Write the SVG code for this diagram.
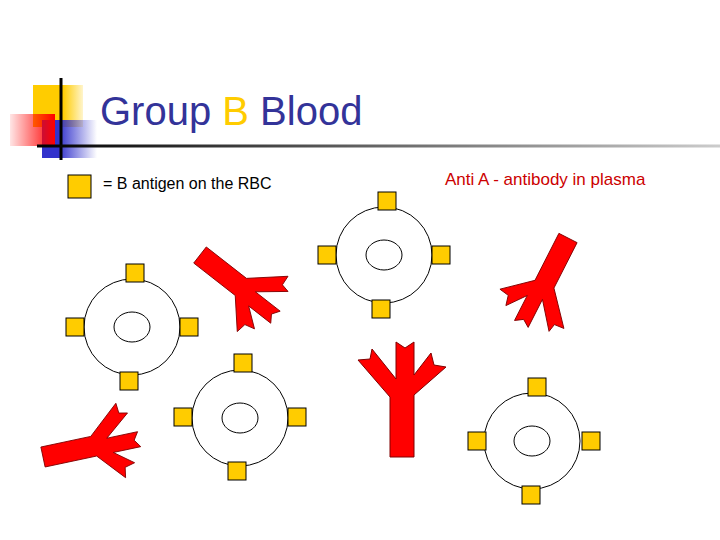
<svg xmlns="http://www.w3.org/2000/svg" width="720" height="540" viewBox="0 0 720 540">
<defs>
<linearGradient id="rg" x1="0" x2="1"><stop offset="0" stop-color="#ff0000" stop-opacity="0.1"/><stop offset="1" stop-color="#ff0000"/></linearGradient>
<linearGradient id="bg" x1="0" x2="1"><stop offset="0.3" stop-color="#3333cc"/><stop offset="1" stop-color="#3333cc" stop-opacity="0"/></linearGradient>
<linearGradient id="yg" x1="0" x2="1"><stop offset="0.6" stop-color="#ffcc00"/><stop offset="1" stop-color="#ffcc00" stop-opacity="0.2"/></linearGradient>
<linearGradient id="lg" x1="0" x2="1"><stop offset="0" stop-color="#000"/><stop offset="1" stop-color="#ccc"/></linearGradient>
<polygon id="ab" points="-12,0 12,0 12,-62 44,-90 32,-92 29,-104 12,-82 12,-115 3,-109 -6,-115 -6,-78 -30,-108 -32,-98 -44,-97 -12,-60"/>
<rect id="ag" x="-9" y="-9" width="18" height="18"/>
</defs>
<style>
.ab{fill:#ff0000;stroke:#800000;stroke-width:1}
.ag{fill:#ffcc00;stroke:#000;stroke-width:1}
.cell{fill:#fff;stroke:#000;stroke-width:1}
text{font-family:"Liberation Sans",Arial,sans-serif}
</style>
<g id="logo">
<rect x="33" y="85" width="50" height="42" fill="url(#yg)"/>
<rect x="42" y="120" width="55" height="38" fill="url(#bg)"/>
<rect x="10" y="114" width="45" height="32" fill="url(#rg)"/>
<line x1="61" y1="78" x2="61" y2="160" stroke="#000" stroke-width="3"/>
<rect x="37" y="144.5" width="683" height="3" fill="url(#lg)"/>
</g>
<text x="100" y="125" font-size="40" fill="#333399">Group <tspan fill="#ffcc00">B</tspan> Blood</text>
<g id="legend">
<rect x="68" y="175" width="23" height="23" class="ag"/>
<text x="103" y="189" font-size="16" fill="#000">= B antigen on the RBC</text>
</g>
<text x="445" y="185" font-size="17" fill="#cc0000">Anti A - antibody in plasma</text>
<g id="cell1"><circle cx="132" cy="327" r="48" class="cell"/><ellipse cx="132" cy="327" rx="18" ry="15" class="cell"/>
<use href="#ag" x="135" y="273" class="ag"/><use href="#ag" x="75" y="327" class="ag"/><use href="#ag" x="189" y="327" class="ag"/><use href="#ag" x="129" y="381" class="ag"/></g>
<g id="cell2"><circle cx="240" cy="418" r="48" class="cell"/><ellipse cx="240" cy="418" rx="18" ry="15" class="cell"/>
<use href="#ag" x="243" y="363" class="ag"/><use href="#ag" x="183" y="417" class="ag"/><use href="#ag" x="297" y="417" class="ag"/><use href="#ag" x="237" y="471" class="ag"/></g>
<g id="cell3"><circle cx="384" cy="255" r="48" class="cell"/><ellipse cx="384" cy="255" rx="18" ry="15" class="cell"/>
<use href="#ag" x="387" y="201" class="ag"/><use href="#ag" x="327" y="255" class="ag"/><use href="#ag" x="441" y="255" class="ag"/><use href="#ag" x="381" y="309" class="ag"/></g>
<g id="cell4"><circle cx="532" cy="441" r="48" class="cell"/><ellipse cx="532" cy="441" rx="18" ry="15" class="cell"/>
<use href="#ag" x="537" y="387" class="ag"/><use href="#ag" x="477" y="441" class="ag"/><use href="#ag" x="591" y="441" class="ag"/><use href="#ag" x="531" y="495" class="ag"/></g>
<g id="ab1"><use href="#ab" class="ab" transform="translate(200,255) rotate(128) scale(0.85)"/></g>
<g id="ab2"><use href="#ab" class="ab" transform="translate(568,238) rotate(207) scale(0.85)"/></g>
<g id="ab3"><use href="#ab" class="ab" transform="translate(402,457)"/></g>
<g id="ab4"><use href="#ab" class="ab" transform="translate(43,457) rotate(78) scale(0.85)"/></g>
</svg>
